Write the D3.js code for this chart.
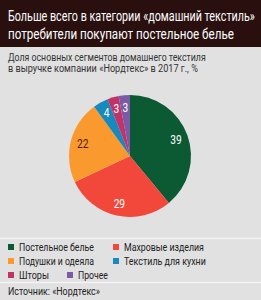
<!DOCTYPE html>
<html>
<head>
<meta charset="utf-8">
<script src="https://cdnjs.cloudflare.com/ajax/libs/d3/7.8.5/d3.min.js"></script>
<style>
  body { margin: 0; background: #e1e1e1; }
  svg text { font-family: "Roboto", "Liberation Sans", sans-serif; }
</style>
</head>
<body>
<div id="chart"></div>
<script>
  // data
  const categories = ["Постельное белье", "Махровые изделия", "Подушки и одеяла", "Текстиль для кухни", "Шторы", "Прочее"];
  const values = [39, 29, 22, 4, 3, 3];
  const colors = ["#0b5a34", "#f2473b", "#fa9a2e", "#1889bd", "#c23468", "#7b5ba8"];
  const labelColors = ["#fff", "#fff", "#4a1a0a", "#fff", "#fff", "#fff"];

  const width = 261, height = 300;

  // the original uses a condensed face: squeeze each text horizontally to its width
  function fit(sel, w, x, y) {
    const n = sel.node().getComputedTextLength();
    sel.attr("x", 0).attr("y", 0)
      .attr("transform", `translate(${x},${y}) scale(${w / n},1)`);
  }

  const svg = d3.select("#chart").append("svg")
    .attr("width", width)
    .attr("height", height);

  svg.append("rect").attr("width", width).attr("height", height).attr("fill", "#e1e1e1");

  // header
  svg.append("rect").attr("width", width).attr("height", 47).attr("fill", "#2a0f0f");
  const title = ["Больше всего в категории «домашний текстиль»", "потребители покупают постельное белье"];
  const titleW = [247, 226];
  svg.selectAll(".title").data(title).enter().append("text")
    .attr("fill", "#fff")
    .style("font-size", "15px")
    .text(d => d)
    .each(function (d, i) { fit(d3.select(this), titleW[i], 8, 21 + i * 18); });

  const subtitle = ["Доля основных сегментов домашнего текстиля", "в выручке компании «Нордтекс» в 2017 г., %"];
  const subW = [198, 190];
  svg.selectAll(".sub").data(subtitle).enter().append("text")
    .attr("fill", "#333")
    .style("font-size", "10.5px")
    .text(d => d)
    .each(function (d, i) { fit(d3.select(this), subW[i], 8, 61 + i * 11); });

  // pie
  const cx = 130, cy = 156, r = 61;
  const pie = d3.pie().sort(null).value(d => d);
  const arc = d3.arc().innerRadius(0).outerRadius(r);
  const labelArc = d3.arc().innerRadius(r * 0.8).outerRadius(r * 0.8);

  const g = svg.append("g").attr("transform", `translate(${cx},${cy})`);
  const arcs = pie(values);
  g.selectAll("path").data(arcs).enter().append("path")
    .attr("d", arc)
    .attr("fill", (d, i) => colors[i]);

  g.selectAll(".lbl").data(arcs).enter().append("text")
    .attr("text-anchor", "middle")
    .attr("dy", "0.35em")
    .attr("fill", (d, i) => labelColors[i])
    .style("font-size", "12px")
    .attr("transform", d => `translate(${labelArc.centroid(d)}) scale(0.85,1)`)
    .text(d => d.data);

  // separators
  svg.append("line").attr("x1", 0).attr("x2", width).attr("y1", 238.5).attr("y2", 238.5)
    .attr("stroke", "#f4f4f4").attr("stroke-width", 1.5);
  svg.append("line").attr("x1", 0).attr("x2", width).attr("y1", 282.5).attr("y2", 282.5)
    .attr("stroke", "#f4f4f4").attr("stroke-width", 1.5);

  // legend
  const legendPos = [[8, 247], [113, 247], [8, 261], [113, 261], [8, 275], [67, 275]];
  const legendW = [75, 80, 75, 82, 30, 30];
  const leg = svg.selectAll(".leg").data(categories).enter().append("g")
    .attr("transform", (d, i) => `translate(${legendPos[i][0]},${legendPos[i][1]})`);
  leg.append("rect")
    .attr("x", 0).attr("y", -3).attr("width", 6).attr("height", 6)
    .attr("fill", (d, i) => colors[i]);
  leg.append("text")
    .attr("dy", "0.35em")
    .attr("fill", "#222")
    .style("font-size", "11.5px")
    .text(d => d)
    .each(function (d, i) { fit(d3.select(this), legendW[i], 11, 0); });

  // source
  svg.append("text")
    .attr("fill", "#222")
    .style("font-size", "11px")
    .text("Источник: «Нордтекс»")
    .call(fit, 92, 8, 295);
</script>
</body>
</html>
